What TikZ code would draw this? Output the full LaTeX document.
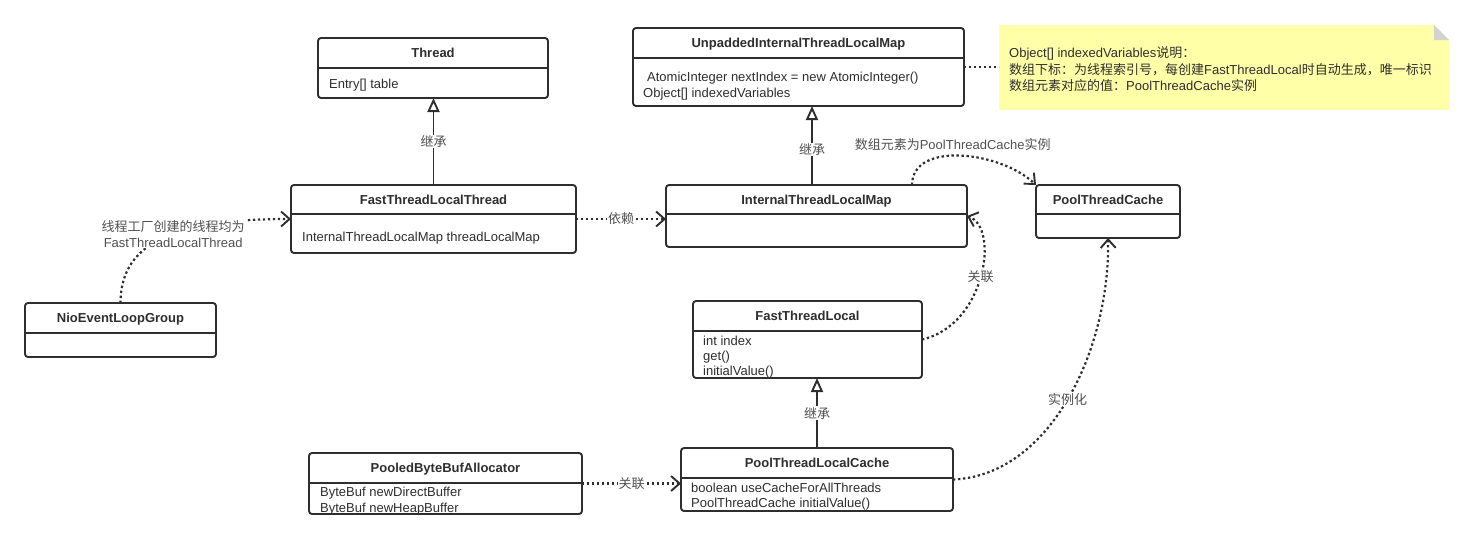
\documentclass[tikz,border=0pt]{standalone}
\usepackage{fontspec}
\setmainfont{Liberation Sans}
\newfontfamily\cjk{Noto Sans CJK SC}
\usetikzlibrary{arrows.meta}

\definecolor{ink}{HTML}{2E2E2E}
\definecolor{labelgray}{HTML}{505050}
\definecolor{notefill}{HTML}{FFFFA8}
\definecolor{foldgray}{HTML}{D2D2D2}

\tikzset{
  classbox/.style={draw=ink, line width=1.9pt, rounded corners=3pt, fill=white, inner sep=0pt, outer sep=0pt},
  classline/.style={draw=ink, line width=1.9pt},
  classtitle/.style={font=\fontsize{13}{15}\selectfont\bfseries, text=ink, inner sep=0pt, text height=9.4pt, text depth=0pt},
  member/.style={font=\fontsize{13}{15}\selectfont, text=ink, anchor=west, inner sep=0pt, text height=9.4pt, text depth=0pt},
  elabel/.style={font=\fontsize{13}{16}\selectfont, text=labelgray, fill=white, inner sep=1pt},
  inherit/.style={draw=ink, line width=1.9pt, -{Triangle[length=14pt,width=12pt,fill=white]}},
  dotline/.style={draw=ink, line width=2.2pt, dash pattern=on 2.4pt off 2.6pt},
  depend/.style={dotline, -{Straight Barb[length=8.5pt,width=15pt,line width=1.9pt]}},
  notebox/.style={fill=notefill, draw=none, inner sep=0pt, outer sep=0pt},
}

% class box: name, left, top, right, bottom, divider, title
\newcommand\umlclass[7]{%
  \node[classbox, minimum width={#4-#2}, minimum height={#5-#3}, anchor=north west] (#1) at (#2,#3) {};
  \draw[classline] (#2,#6) -- (#4,#6);
  \node[classtitle] (#1-name) at ({(#2+#4)/2},{(#3+#6)/2}) {#7};
}

\begin{document}
\begin{tikzpicture}[x=1pt,y=-1pt]
\useasboundingbox (0,0) rectangle (1480,539);

% classes
\umlclass{thread}{318}{38}{548}{98}{68}{Thread}
\node[member] (thread-m1) at (329,84) {Entry[] table};

\umlclass{ftlt}{291}{185}{576}{253}{214}{FastThreadLocalThread}
\node[member] (ftlt-m1) at (302,237) {InternalThreadLocalMap threadLocalMap};

\umlclass{nio}{25}{303}{216}{357}{333}{NioEventLoopGroup}

\umlclass{uitlm}{633}{28}{964}{106}{58}{UnpaddedInternalThreadLocalMap}
\node[member] (uitlm-m1) at (647,77) {AtomicInteger nextIndex = new AtomicInteger()};
\node[member] (uitlm-m2) at (643,93) {Object[] indexedVariables};

\umlclass{itlm}{666}{185}{967}{247}{214}{InternalThreadLocalMap}

\umlclass{ptc}{1036}{185}{1180}{238}{214}{PoolThreadCache}

\umlclass{ftl}{693}{301}{922}{378}{331}{FastThreadLocal}
\node[member] (ftl-m1) at (703,341) {int index};
\node[member] (ftl-m2) at (703,356) {get()};
\node[member] (ftl-m3) at (703,371) {initialValue()};

\umlclass{ptlc}{681}{448}{953}{511}{478}{PoolThreadLocalCache}
\node[member] (ptlc-m1) at (691,488) {boolean useCacheForAllThreads};
\node[member] (ptlc-m2) at (691,503) {PoolThreadCache initialValue()};

\umlclass{pba}{309}{453}{582}{514}{483}{PooledByteBufAllocator}
\node[member] (pba-m1) at (320,492) {ByteBuf newDirectBuffer};
\node[member] (pba-m2) at (320,508) {ByteBuf newHeapBuffer};

% note with folded corner
\node[notebox, minimum width=450pt, minimum height=85pt, anchor=north west] (note) at (999,25) {};
\fill[white] (note.north east) -- ([xshift=-15pt]note.north east) -- ([yshift=-15pt]note.north east) -- cycle;
\fill[foldgray] ([xshift=-15pt]note.north east) -- ([xshift=-15pt,yshift=-15pt]note.north east) -- ([yshift=-15pt]note.north east) -- cycle;
\node[member] (note-l1) at (1009,53) {Object[] indexedVariables{\cjk 说明：}};
\node[member] (note-l2) at (1009,70) {{\cjk 数组下标：为线程索引号，每创建}FastThreadLocal{\cjk 时自动生成，唯一标识}};
\node[member] (note-l3) at (1009,86) {{\cjk 数组元素对应的值：}PoolThreadCache{\cjk 实例}};
\draw[dotline] (uitlm.east) -- (uitlm.east -| note.west);

% generalisation
\draw[inherit] (ftlt.north) -- node[elabel] {\cjk 继承} (ftlt.north |- thread.south);
\coordinate (itlm-up) at ([xshift=146pt]itlm.north west);
\draw[inherit] (itlm-up) -- node[elabel, pos=0.45] {\cjk 继承} (itlm-up |- uitlm.south);
\draw[inherit] (ptlc.north) -- node[elabel] {\cjk 继承} (ptlc.north |- ftl.south);

% dependencies and associations
\draw[depend] (ftlt.east) -- node[elabel] {\cjk 依赖} (ftlt.east -| itlm.west);
\draw[depend] (pba.east) -- node[elabel] {\cjk 关联} (pba.east -| ptlc.west);
\draw[depend] (nio.north) .. controls +(0,-63) and +(-111,0) ..
  node[elabel, pos=0.55, align=center] {{\cjk 线程工厂创建的线程均为}\\FastThreadLocalThread} (ftlt.west);
\coordinate (itlm-out) at ([xshift=246pt]itlm.north west);
\draw[depend] (itlm-out) .. controls +(0,-44) and +(-36,-34) ..
  node[elabel, fill=none, pos=0.45, above=3pt] {{\cjk 数组元素为}PoolThreadCache{\cjk 实例}} (ptc.north west);
\draw[depend] (ftl.east) .. controls +(63,-14) and +(33,12) ..
  node[elabel] {\cjk 关联} (itlm.east);
\draw[depend] (ptlc.east) .. controls +(97,-4) and +(2,112) ..
  node[elabel] {\cjk 实例化} (ptc.south);
\end{tikzpicture}
\end{document}
